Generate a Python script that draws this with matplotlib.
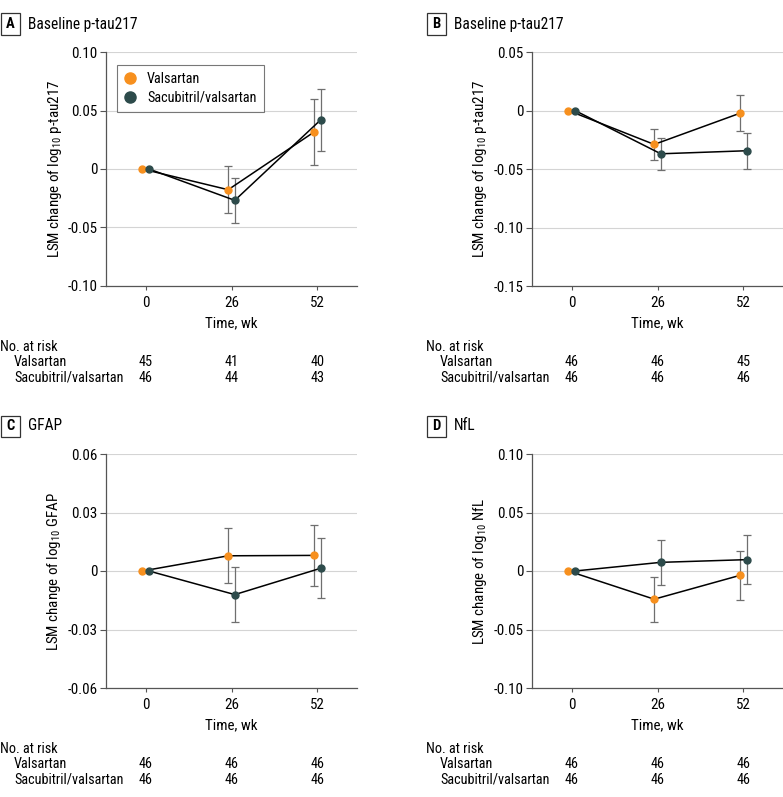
import matplotlib
matplotlib.use("Agg")
import matplotlib.pyplot as plt
from matplotlib.patches import Rectangle

plt.rcParams['font.family'] = ['Roboto Condensed', 'DejaVu Sans']
plt.rcParams['font.size'] = 10
plt.rcParams['mathtext.fontset'] = 'custom'
plt.rcParams['mathtext.rm'] = 'Roboto Condensed'
plt.rcParams['mathtext.it'] = 'Roboto Condensed'

# weeks and the small offset used so the two groups do not overlap
weeks = [0, 26, 52]
dodge = 1.0

groups = ["Valsartan", "Sacubitril/valsartan"]
colors = ["#F7901E", "#2D4B4B"]

# panel A: baseline p-tau217 (first model)
a_val = [0, -0.0177, 0.0316]
a_val_lo = [0, -0.0376, 0.0037]
a_val_hi = [0, 0.0028, 0.0595]
a_sac = [0, -0.0268, 0.0420]
a_sac_lo = [0, -0.0460, 0.0157]
a_sac_hi = [0, -0.0080, 0.0680]

# panel B: baseline p-tau217 (second model)
b_val = [0, -0.0290, -0.0023]
b_val_lo = [0, -0.0426, -0.0173]
b_val_hi = [0, -0.0156, 0.0130]
b_sac = [0, -0.0370, -0.0344]
b_sac_lo = [0, -0.0506, -0.0497]
b_sac_hi = [0, -0.0239, -0.0190]

# panel C: GFAP
c_val = [0, 0.0078, 0.0080]
c_val_lo = [0, -0.0063, -0.0075]
c_val_hi = [0, 0.0222, 0.0234]
c_sac = [0, -0.0121, 0.0014]
c_sac_lo = [0, -0.0261, -0.0138]
c_sac_hi = [0, 0.0020, 0.0169]

# panel D: NfL
d_val = [0, -0.0241, -0.0037]
d_val_lo = [0, -0.0435, -0.0247]
d_val_hi = [0, -0.0054, 0.0168]
d_sac = [0, 0.0074, 0.0097]
d_sac_lo = [0, -0.0119, -0.0108]
d_sac_hi = [0, 0.0261, 0.0307]

# numbers at risk
a_risk = [[45, 41, 40], [46, 44, 43]]
b_risk = [[46, 46, 45], [46, 46, 46]]
c_risk = [[46, 46, 46], [46, 46, 46]]
d_risk = [[46, 46, 46], [46, 46, 46]]

a_ticks = [0.10, 0.05, 0, -0.05, -0.10]
a_ticklabels = ["0.10", "0.05", "0", "-0.05", "-0.10"]
b_ticks = [0.05, 0, -0.05, -0.10, -0.15]
b_ticklabels = ["0.05", "0", "-0.05", "-0.10", "-0.15"]
c_ticks = [0.06, 0.03, 0, -0.03, -0.06]
c_ticklabels = ["0.06", "0.03", "0", "-0.03", "-0.06"]
d_ticks = [0.10, 0.05, 0, -0.05, -0.10]
d_ticklabels = ["0.10", "0.05", "0", "-0.05", "-0.10"]

panels = [
    ("A", "Baseline p-tau217", "LSM change of log$_{10}$ p-tau217",
     [(a_val, a_val_lo, a_val_hi), (a_sac, a_sac_lo, a_sac_hi)],
     a_ticks, a_ticklabels, a_risk, True),
    ("B", "Baseline p-tau217", "LSM change of log$_{10}$ p-tau217",
     [(b_val, b_val_lo, b_val_hi), (b_sac, b_sac_lo, b_sac_hi)],
     b_ticks, b_ticklabels, b_risk, False),
    ("C", "GFAP", "LSM change of log$_{10}$ GFAP",
     [(c_val, c_val_lo, c_val_hi), (c_sac, c_sac_lo, c_sac_hi)],
     c_ticks, c_ticklabels, c_risk, False),
    ("D", "NfL", "LSM change of log$_{10}$ NfL",
     [(d_val, d_val_lo, d_val_hi), (d_sac, d_sac_lo, d_sac_hi)],
     d_ticks, d_ticklabels, d_risk, False),
]

W, H = 783, 797
fig = plt.figure(figsize=(W / 100, H / 100), dpi=100)

# axes boxes in pixels: left, top (width and height shared)
boxes = [(106, 52), (532, 52), (106, 454), (532, 454)]
ax_w, ax_h = 251, 234

for (letter, title, ylabel, series, ticks, ticklabels, risk, show_legend), (lx, ty) in zip(panels, boxes):
    ax = fig.add_axes([lx / W, 1 - (ty + ax_h) / H, ax_w / W, ax_h / H])
    offsets = [-dodge, dodge]
    for i, (mid, lo, hi) in enumerate(series):
        xs = [w + offsets[i] for w in weeks]
        lower = [m - l for m, l in zip(mid, lo)]
        upper = [h - m for m, h in zip(mid, hi)]
        ax.errorbar(xs[1:], mid[1:], yerr=[lower[1:], upper[1:]], fmt="none",
                    ecolor="#6f6f6f", elinewidth=0.9, capsize=3, capthick=0.9, zorder=2)
        ax.plot(xs, mid, color="black", lw=1.1, zorder=3)
        ax.plot(xs, mid, "o", color=colors[i], ms=5, mec=colors[i], zorder=4,
                label=groups[i])

    ax.set_xlim(-12, 64)
    ax.set_ylim(ticks[-1], ticks[0])
    ax.set_xticks(weeks)
    ax.set_xticklabels([str(w) for w in weeks])
    ax.set_yticks(ticks)
    ax.set_yticklabels(ticklabels)
    ax.tick_params(axis="both", labelsize=10.8)
    ax.tick_params(axis="x", length=3, width=0.8, color="#555555", pad=4)
    ax.tick_params(axis="y", length=4, width=0.8, color="#555555", pad=2)
    ax.grid(axis="y", color="#d4d4d4", lw=0.8)
    ax.set_axisbelow(True)
    for s in ["top", "right"]:
        ax.spines[s].set_visible(False)
    for s in ["left", "bottom"]:
        ax.spines[s].set_color("#555555")
        ax.spines[s].set_linewidth(0.9)
    ax.set_xlabel("Time, wk", fontsize=10.8, labelpad=5)
    ax.set_ylabel(ylabel, fontsize=10.8, labelpad=3)

    if show_legend:
        leg = ax.legend(loc="upper left", bbox_to_anchor=(0.044, 0.944), borderaxespad=0,
                        frameon=True, fancybox=False, edgecolor="#555555", fontsize=10.3,
                        handlelength=0.8, handletextpad=0.8, borderpad=0.5,
                        labelspacing=0.3, markerscale=1.6)
        leg.get_frame().set_linewidth(0.8)

    # panel letter box and title
    fx = (lx - 106) / W
    fy = 1 - (ty - 28) / H
    fig.text(fx + 10.5 / W, fy, letter, fontsize=10.5, fontweight="bold", ha="center", va="center")
    fig.patches.append(Rectangle((fx + 1 / W, fy - 10.5 / H), 19 / W, 21 / H, transform=fig.transFigure,
                                 fill=False, edgecolor="#333333", lw=0.9))
    fig.text(fx + 28 / W, fy, title, fontsize=11.2, ha="left", va="center")

    # numbers at risk table
    tr = ax.get_xaxis_transform()
    row_y = [-(347 - 286) / ax_h, -(362 - 286) / ax_h, -(378 - 286) / ax_h]
    ax.text(-106 / ax_w, row_y[0], "No. at risk", transform=ax.transAxes, ha="left", va="center",
            fontsize=10.3, clip_on=False)
    for r, name in enumerate(groups):
        ax.text(-92 / ax_w, row_y[r + 1], name, transform=ax.transAxes, ha="left", va="center",
                fontsize=10.3, clip_on=False)
        for w, n in zip(weeks, risk[r]):
            ax.text(w, row_y[r + 1], str(n), transform=tr, ha="center", va="center",
                    fontsize=10.3, clip_on=False)

fig.savefig("out.png", dpi=100)
